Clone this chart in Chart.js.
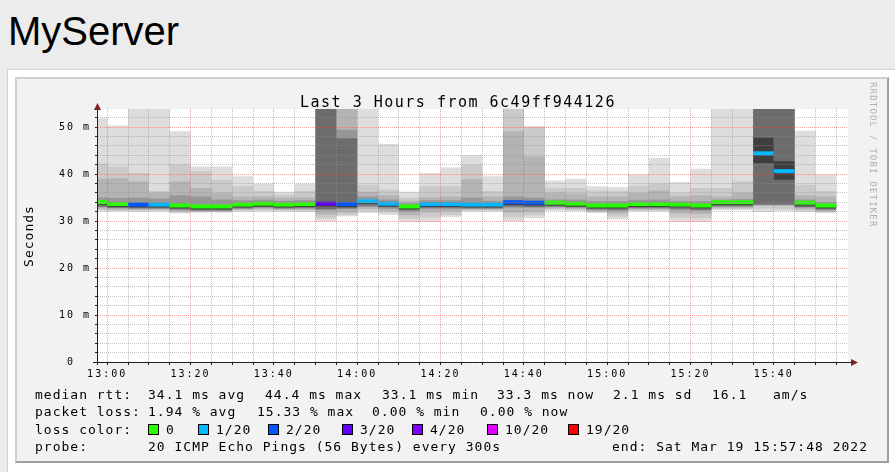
<!DOCTYPE html>
<html>
<head>
<meta charset="utf-8">
<script src="https://cdn.jsdelivr.net/npm/chart.js"></script>
<style>
  html, body { margin: 0; padding: 0; width: 895px; height: 472px; overflow: hidden; background: #ececec; }
  h1 { position: absolute; left: 8px; top: 11px; margin: 0; font: normal 40px/40px "Liberation Sans", Arial, sans-serif; color: #000; }
  #panel { position: absolute; left: 7px; top: 69px; width: 930px; height: 450px; background: #fff; border: 1px solid #d2d2d2; }
  #graph { position: absolute; left: 15px; top: 77px; width: 870px; height: 382px; background: #f2f2f2;
           border: 2px solid; border-color: #cfcfcf #9e9e9e #9e9e9e #cfcfcf; }
  #myChart { position: absolute; left: 0; top: 0; }
</style>
</head>
<body>
<h1>MyServer</h1>
<div id="panel"></div>
<div id="graph"></div>
<canvas id="myChart" width="895" height="472"></canvas>
<script>
// 5 minute slots (start time of each step)
let slots = ['12:55', '13:00', '13:05', '13:10', '13:15', '13:20', '13:25', '13:30', '13:35', '13:40',
             '13:45', '13:50', '13:55', '14:00', '14:05', '14:10', '14:15', '14:20', '14:25', '14:30',
             '14:35', '14:40', '14:45', '14:50', '14:55', '15:00', '15:05', '15:10', '15:15', '15:20',
             '15:25', '15:30', '15:35', '15:40', '15:45', '15:50'];
let startTime = '12:57:48';
let endTime = '15:57:48';

// median rtt (ms) and lost pings (of 20) per slot
let median = [34.0, 33.6, 33.5, 33.5, 33.3, 33.1, 33.1, 33.5, 33.7, 33.5, 33.6, 33.7, 33.6, 34.2, 33.7, 33.1, 33.6, 33.6,
              33.5, 33.5, 34.0, 33.9, 33.9, 33.7, 33.3, 33.3, 33.6, 33.6, 33.5, 33.3, 34.0, 34.0, 44.4, 40.6, 33.9, 33.3];
let lossPings = [0, 0, 2, 1, 0, 0, 0, 0, 0, 0, 0, 3, 2, 1, 1, 0, 1, 1, 1, 1, 2, 2, 0, 0, 0, 0, 0, 0, 0, 0, 0, 0, 1, 1, 0, 0];

// smoke bands, outermost first (low / high edges in ms)
let smokeMin = [32.0, 32.0, 31.9, 32.0, 31.6, 31.8, 31.8, 32.0, 32.0, 32.0, 31.9, 29.9, 31.0, 31.7, 31.3, 29.8, 29.8, 30.8,
                32.0, 32.0, 29.9, 30.6, 32.2, 32.1, 31.7, 30.3, 32.0, 32.0, 29.8, 29.8, 32.3, 32.3, 31.9, 32.1, 31.9, 31.7];
let smokeMax = [51.9, 50.3, 55, 55, 49.1, 41.6, 41.6, 39.5, 37.9, 36.2, 37.9, 55, 55, 55, 46.4, 36.2, 40.2, 41.4,
                44.0, 39.5, 55, 50.1, 38.6, 39.0, 37.4, 37.2, 39.9, 43.4, 38.3, 41.1, 55, 55, 55, 55, 49.2, 39.9];
let band2Lo = [32.3, 32.2, 32.2, 32.2, 31.8, 31.9, 31.9, 32.2, 32.3, 32.2, 32.2, 30.6, 31.3, 32.2, 31.8, 30.5, 30.8, 31.3,
               32.2, 32.2, 30.8, 31.2, 32.4, 32.3, 31.9, 30.9, 32.2, 32.2, 30.7, 30.6, 32.5, 32.5, 32.6, 32.5, 32.2, 31.9];
let band2Hi = [42.3, 41.6, 40.2, 36.4, 42.0, 40.6, 38.8, 37.4, 36.4, 35.6, 36.4, 55, 55, 37.7, 36.7, 35.0, 37.4, 37.4,
               41.9, 36.4, 55, 50.1, 37.1, 37.0, 36.5, 36.4, 37.5, 38.0, 36.0, 37.0, 37.0, 38.4, 55, 55, 37.7, 36.4];
let band3Lo = [32.6, 32.4, 32.4, 32.4, 32.0, 32.0, 32.0, 32.4, 32.5, 32.4, 32.4, 31.4, 31.8, 32.6, 32.2, 31.3, 31.8, 32.0,
               32.4, 32.4, 31.8, 31.9, 32.7, 32.5, 32.1, 31.6, 32.4, 32.4, 31.6, 31.5, 32.8, 32.8, 33.2, 33.2, 32.5, 32.1];
let band3Hi = [39.0, 39.1, 38.4, 36.0, 38.4, 37.0, 36.0, 35.2, 35.2, 35.0, 35.0, 55, 55, 36.2, 35.5, 34.3, 35.0, 35.2,
               38.9, 35.2, 49.1, 43.7, 36.0, 35.8, 35.2, 35.2, 36.0, 36.5, 35.2, 35.5, 35.2, 36.0, 55, 55, 35.5, 35.2];
let band4Lo = [32.9, 32.7, 32.6, 32.6, 32.3, 32.2, 32.2, 32.6, 32.8, 32.6, 32.6, 32.3, 32.5, 33.0, 32.6, 32.0, 32.5, 32.5,
               32.6, 32.6, 32.8, 32.8, 32.9, 32.8, 32.3, 32.2, 32.6, 32.6, 32.3, 32.2, 33.0, 33.0, 33.4, 33.4, 32.8, 32.3];
let band4Hi = [35.0, 34.9, 35.0, 34.8, 35.5, 35.2, 34.6, 34.4, 34.5, 34.3, 34.4, 55, 49.4, 35.2, 34.6, 33.8, 34.4, 34.4,
               35.0, 34.3, 35.2, 35.0, 34.6, 34.5, 34.2, 34.2, 34.5, 34.6, 34.2, 34.2, 34.6, 34.7, 55, 55, 34.6, 34.0];
let band5Lo = [33.1, 32.8, 32.7, 32.7, 32.5, 32.3, 32.3, 32.7, 32.9, 32.7, 32.8, 32.5, 32.7, 33.3, 32.9, 32.3, 32.8, 32.8,
               32.7, 32.7, 33.1, 33.0, 33.1, 32.9, 32.5, 32.4, 32.8, 32.8, 32.6, 32.4, 33.2, 33.2, 33.5, 33.5, 33.0, 32.5];
let band5Hi = [34.0, 33.6, 33.5, 33.5, 33.3, 33.1, 33.1, 33.5, 33.7, 33.5, 33.6, 55, 47.6, 34.2, 33.7, 33.1, 33.6, 33.6,
               33.5, 33.5, 34.0, 33.9, 33.9, 33.7, 33.3, 33.3, 33.6, 33.6, 33.5, 33.3, 34.0, 34.0, 55, 55, 33.9, 33.3];
let band6Lo = [33.4, 33.0, 32.9, 32.9, 32.7, 32.5, 32.5, 32.9, 33.1, 32.9, 33.0, 33.1, 33.0, 33.6, 33.1, 32.5, 33.0, 33.0,
               32.9, 32.9, 33.4, 33.3, 33.3, 33.1, 32.7, 32.7, 33.0, 33.0, 32.9, 32.7, 33.4, 33.4, 42.3, 38.8, 33.3, 32.7];
let band6Hi = [33.8, 33.4, 33.3, 33.3, 33.1, 32.9, 32.9, 33.3, 33.5, 33.3, 33.4, 33.5, 33.4, 34.0, 33.5, 32.9, 33.4, 33.4,
               33.3, 33.3, 33.8, 33.7, 33.7, 33.5, 33.1, 33.1, 33.4, 33.4, 33.3, 33.1, 33.8, 33.8, 47.7, 42.7, 33.7, 33.1];
let smokeShades = ['#dddddd', '#cacaca', '#b4b4b4', '#979797', '#6c6c6c', '#3e3e3e'];

let lossSteps = [0, 1, 2, 3, 4, 10, 19];
let lossLabels = ['0', '1/20', '2/20', '3/20', '4/20', '10/20', '19/20'];
let lossColors = ['#26ff00', '#00b8ff', '#0059ff', '#5e00ff', '#7e00ff', '#dd00ff', '#ff0000'];

let timeLabels = ['13:00', '13:20', '13:40', '14:00', '14:20', '14:40', '15:00', '15:20', '15:40'];
let yTickValues = [0, 10, 20, 30, 40, 50];
let yTickLabels = ['0  ', '10 m', '20 m', '30 m', '40 m', '50 m'];
let yMax = 53.83;

// minutes after 13:00
function toMin(s) {
    let p = s.split(':').map(Number);
    return (p[0] - 13) * 60 + p[1] + (p[2] || 0) / 60;
}
let xMin = toMin(startTime);
let xMax = toMin(endTime);
let labelMinutes = timeLabels.map(toMin);

// stepped series: one point per slot start, plus the end of the last slot
function steps(values) {
    let pts = slots.map((s, i) => ({ x: toMin(s), y: values[i] }));
    pts.push({ x: toMin(slots[slots.length - 1]) + 5, y: values[values.length - 1] });
    return pts;
}
// median: one flat piece per slot, broken between slots
function flatPieces(values) {
    let pts = [];
    slots.forEach((s, i) => {
        pts.push({ x: toMin(s), y: values[i] });
        pts.push({ x: toMin(s) + 5, y: values[i] });
        pts.push({ x: toMin(s) + 5, y: null });
    });
    return pts;
}
function lossColor(l) {
    let c = lossColors[0];
    lossSteps.forEach((s, i) => { if (l >= s) c = lossColors[i]; });
    return c;
}

let datasets = [{
    label: 'median rtt',
    data: flatPieces(median),
    borderWidth: 4,
    borderColor: lossColors[0],
    borderCapStyle: 'butt',
    segment: { borderColor: c => lossColor(lossPings[Math.floor(c.p0DataIndex / 3)]) },
    spanGaps: false,
    pointRadius: 0,
    fill: false,
    order: 0
}];
let bands = [[smokeMin, smokeMax], [band2Lo, band2Hi], [band3Lo, band3Hi],
             [band4Lo, band4Hi], [band5Lo, band5Hi], [band6Lo, band6Hi]];
bands.forEach((b, k) => {
    let loIndex = datasets.length;
    datasets.push({ data: steps(b[0]), stepped: true, borderWidth: 0, pointRadius: 0, fill: false, order: 20 - k });
    datasets.push({ data: steps(b[1]), stepped: true, borderWidth: 0, pointRadius: 0,
                    fill: { target: loIndex }, backgroundColor: smokeShades[k], order: 20 - k });
});

let minorGrid = 'rgba(143,143,143,0.55)';
let majorGrid = 'rgba(222,79,79,0.5)';
let mono = '"DejaVu Sans Mono", monospace';

function text(ctx, s, x, y, size, spacing, align) {
    ctx.font = size + 'px ' + mono;
    ctx.letterSpacing = spacing + 'px';
    ctx.textAlign = align || 'left';
    ctx.fillText(s, x, y);
}

let rrdDecor = {
    id: 'rrdDecor',
    beforeDraw(chart) {
        let ctx = chart.ctx, a = chart.chartArea;
        ctx.save();
        ctx.fillStyle = '#ffffff';
        ctx.fillRect(a.left, a.top, a.right - a.left, a.bottom - a.top);
        ctx.restore();
        ctx.letterSpacing = '2px';
    },
    afterDraw(chart) {
        let ctx = chart.ctx, a = chart.chartArea;
        ctx.save();
        // axes
        ctx.strokeStyle = '#1f1f1f';
        ctx.lineWidth = 1;
        ctx.beginPath();
        ctx.moveTo(93, a.bottom + 0.5);
        ctx.lineTo(852, a.bottom + 0.5);
        ctx.moveTo(a.left - 0.5, a.bottom + 3);
        ctx.lineTo(a.left - 0.5, a.top - 1);
        ctx.stroke();
        ctx.fillStyle = '#801f1f';
        ctx.beginPath();
        ctx.moveTo(a.left - 0.5, a.top - 6);
        ctx.lineTo(a.left - 4, a.top + 1);
        ctx.lineTo(a.left + 3, a.top + 1);
        ctx.fill();
        ctx.beginPath();
        ctx.moveTo(858, a.bottom + 0.5);
        ctx.lineTo(851, a.bottom - 3);
        ctx.lineTo(851, a.bottom + 4);
        ctx.fill();

        ctx.fillStyle = '#000';
        ctx.textBaseline = 'alphabetic';
        text(ctx, 'Last 3 Hours from 6c49ff944126', 300, 106.5, 15, 1.5);

        ctx.save();
        ctx.translate(33, 236);
        ctx.rotate(-Math.PI / 2);
        text(ctx, 'Seconds', 0, 0, 13, 1, 'center');
        ctx.restore();

        ctx.save();
        ctx.fillStyle = '#b0b0b0';
        ctx.translate(870, 82);
        ctx.rotate(Math.PI / 2);
        text(ctx, 'RRDTOOL / TOBI OETIKER', 0, 0, 9, 1.2);
        ctx.restore();

        // legend
        let rows = [
            [399, [[35, 'median rtt:'], [148, '34.1 ms avg'], [265, '44.4 ms max'], [382, '33.1 ms min'],
                   [497, '33.3 ms now'], [613, '2.1 ms sd'], [712, '16.1'], [773, 'am/s']]],
            [416.3, [[35, 'packet loss:'], [148, '1.94 % avg'], [257, '15.33 % max'], [372, '0.00 % min'],
                     [480, '0.00 % now']]],
            [433.5, [[35, 'loss color:']]],
            [450.8, [[35, 'probe:'], [148, '20 ICMP Echo Pings (56 Bytes) every 300s'],
                     [612, 'end: Sat Mar 19 15:57:48 2022']]]
        ];
        rows.forEach(r => r[1].forEach(it => text(ctx, it[1], it[0], r[0], 13, 1)));
        let boxX = [148, 198, 268, 342, 412, 487, 568];
        lossLabels.forEach((lab, i) => {
            ctx.fillStyle = lossColors[i];
            ctx.fillRect(boxX[i] + 0.5, 424.5, 10, 10);
            ctx.strokeStyle = '#000';
            ctx.strokeRect(boxX[i] + 0.5, 424.5, 10, 10);
            ctx.fillStyle = '#000';
            text(ctx, lab, boxX[i] + 18, 433.5, 13, 1);
        });
        ctx.restore();
    }
};

let ctx = document.getElementById('myChart').getContext('2d');
let myChart = new Chart(ctx, {
    type: 'line',
    data: { datasets: datasets },
    plugins: [rrdDecor],
    options: {
        responsive: false,
        animation: false,
        events: [],
        layout: { padding: { left: 0, right: 47, top: 109, bottom: 0 } },
        plugins: { legend: { display: false }, tooltip: { enabled: false }, title: { display: false } },
        scales: {
            x: {
                type: 'linear',
                min: xMin,
                max: xMax,
                afterBuildTicks: axis => {
                    let t = [];
                    for (let m = 0; m <= xMax; m += 5) t.push({ value: m });
                    axis.ticks = t;
                },
                afterFit: axis => { axis.height = 110; },
                grid: {
                    z: 1,
                    color: c => (c.tick && labelMinutes.includes(c.tick.value)) ? majorGrid : minorGrid,
                    tickColor: '#1f1f1f',
                    tickLength: 3,
                    lineWidth: 1
                },
                border: { display: false, dash: [1, 1] },
                ticks: {
                    autoSkip: false,
                    maxRotation: 0,
                    padding: 3,
                    color: '#000',
                    font: { family: mono, size: 10 },
                    callback: v => {
                        let i = labelMinutes.indexOf(v);
                        return i >= 0 ? timeLabels[i] : '';
                    }
                }
            },
            y: {
                min: 0,
                max: yMax,
                afterBuildTicks: axis => {
                    let t = [];
                    for (let v = 0; v <= yMax; v += 2) t.push({ value: v });
                    axis.ticks = t;
                },
                afterFit: axis => { axis.width = 98; },
                grid: {
                    z: 1,
                    color: c => (c.tick && c.tick.value % 10 === 0) ? majorGrid : minorGrid,
                    tickColor: '#1f1f1f',
                    tickLength: 3,
                    lineWidth: 1
                },
                border: { display: false, dash: [1, 1] },
                ticks: {
                    autoSkip: false,
                    padding: 4,
                    color: '#000',
                    font: { family: mono, size: 10 },
                    callback: v => {
                        let i = yTickValues.indexOf(v);
                        return i >= 0 ? yTickLabels[i] : '';
                    }
                }
            }
        }
    }
});
</script>
</body>
</html>
